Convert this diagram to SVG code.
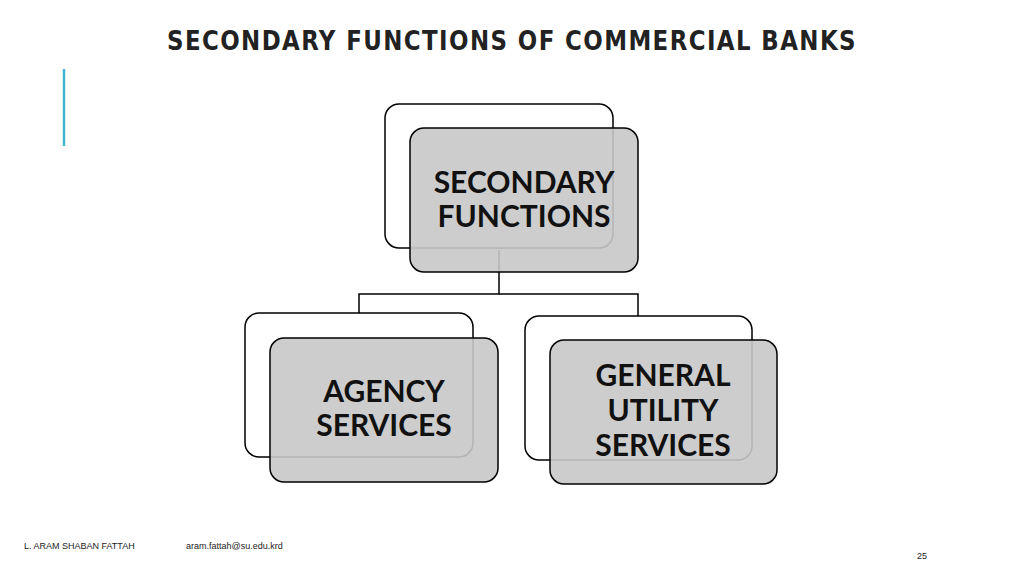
<svg xmlns="http://www.w3.org/2000/svg" width="1024" height="576" viewBox="0 0 1024 576">
<style>
.back{fill:#fff;stroke:#000;stroke-width:1.5}
.front{fill:#c8c8c8;fill-opacity:0.9;stroke:#000;stroke-width:1.5}
.lbl{font-family:Lato,"Liberation Sans",sans-serif;font-weight:bold;font-size:30px;fill:#111;text-anchor:middle}
.ft{font-family:"Liberation Sans",Arial,sans-serif;font-size:9px;fill:#222}
</style>
<rect width="1024" height="576" fill="#fff"/>
<text x="512" y="50" text-anchor="middle" font-family="'DejaVu Sans Condensed','Liberation Sans Narrow',sans-serif" font-weight="bold" font-size="27" letter-spacing="1.5" fill="#222" textLength="690" lengthAdjust="spacingAndGlyphs">SECONDARY FUNCTIONS OF COMMERCIAL BANKS</text>
<line x1="64" y1="69" x2="64" y2="146" stroke="#3fb8cf" stroke-width="2.5"/>
<g id="connectors" fill="none" stroke="#000" stroke-width="1.5">
<path d="M499 250V294H359V315"/>
<path d="M499 294H638V318"/>
</g>
<g id="n1">
<rect class="back" x="385" y="104" width="228" height="144" rx="14"/>
<rect class="front" x="410" y="128" width="228" height="144" rx="14"/>
<text class="lbl" x="524" y="193">SECONDARY</text>
<text class="lbl" x="524" y="227">FUNCTIONS</text>
</g>
<g id="n2">
<rect class="back" x="245" y="313" width="228" height="144" rx="14"/>
<rect class="front" x="270" y="338" width="228" height="144" rx="14"/>
<text class="lbl" x="384" y="402">AGENCY</text>
<text class="lbl" x="384" y="436">SERVICES</text>
</g>
<g id="n3">
<rect class="back" x="525" y="316" width="227" height="144" rx="14"/>
<rect class="front" x="550" y="340" width="227" height="144" rx="14"/>
<text class="lbl" x="663" y="386">GENERAL</text>
<text class="lbl" x="663" y="421">UTILITY</text>
<text class="lbl" x="663" y="456">SERVICES</text>
</g>
<text class="ft" x="24" y="549">L. ARAM SHABAN FATTAH</text>
<text class="ft" x="186" y="549">aram.fattah@su.edu.krd</text>
<text class="ft" x="917" y="559" font-size="8">25</text>
</svg>
